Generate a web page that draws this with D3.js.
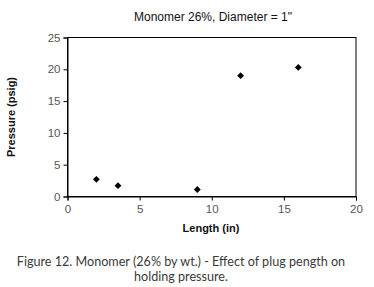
<!DOCTYPE html>
<html><head><meta charset="utf-8">
<script src="https://cdn.jsdelivr.net/npm/d3@7"></script>
<style>body{margin:0;background:#fff}</style></head>
<body><svg id="c" width="374" height="287"></svg>
<script>
const lengths = [2, 3.5, 9, 12, 16];
const pressures = [2.7, 1.7, 1.1, 19, 20.3];
const xTicks = [0, 5, 10, 15, 20];
const yTicks = [0, 5, 10, 15, 20, 25];
const title = 'Monomer 26%, Diameter = 1"';
const xLabel = "Length (in)";
const yLabel = "Pressure (psig)";
const caption = ["Figure 12. Monomer (26% by wt.) - Effect of plug pength on", "holding pressure."];

const svg = d3.select("#c");
const L = 67.5, R = 356, T = 37.5, B = 196.5;
const x = d3.scaleLinear().domain([0, 20]).range([L, R]);
const y = d3.scaleLinear().domain([0, 25]).range([B, T]);
const font = "'Liberation Sans', Arial, sans-serif";

svg.append("rect").attr("x", L).attr("y", T).attr("width", R - L).attr("height", B - T)
  .attr("fill", "none").attr("stroke", "#000").attr("stroke-width", 1);

const gx = svg.append("g").attr("transform", `translate(0,${B})`)
  .call(d3.axisBottom(x).tickValues(xTicks).tickSize(4).tickPadding(4));
const gy = svg.append("g").attr("transform", `translate(${L},0)`)
  .call(d3.axisLeft(y).tickValues(yTicks).tickSize(4).tickPadding(3));
[gx, gy].forEach(g => {
  g.select(".domain").attr("stroke", "#000");
  g.selectAll(".tick line").attr("stroke", "#000");
  g.selectAll(".tick text").attr("fill", "#555").attr("font-family", font).attr("font-size", 11.5);
});

svg.append("g").selectAll("path").data(lengths).join("path")
  .attr("d", d3.symbol(d3.symbolDiamond2, 30))
  .attr("transform", (d, i) => `translate(${x(d)},${y(pressures[i])})`)
  .attr("fill", "#000");

svg.append("text").attr("x", 213).attr("y", 21).attr("text-anchor", "middle")
  .attr("font-family", font).attr("font-size", 12).attr("fill", "#111").text(title);
svg.append("text").attr("x", 211).attr("y", 232).attr("text-anchor", "middle")
  .attr("font-family", font).attr("font-size", 11).attr("font-weight", "bold").attr("fill", "#111").text(xLabel);
svg.append("text").attr("transform", `translate(15,${(T + B) / 2}) rotate(-90)`).attr("text-anchor", "middle")
  .attr("font-family", font).attr("font-size", 11).attr("font-weight", "bold").attr("fill", "#111").text(yLabel);
svg.append("g").selectAll("text").data(caption).join("text")
  .attr("x", 181).attr("y", (d, i) => 266 + i * 14.5).attr("text-anchor", "middle")
  .attr("font-family", "Lato, sans-serif").attr("font-size", 12.6).attr("fill", "#3a3a3a").text(d => d);
</script></body></html>
